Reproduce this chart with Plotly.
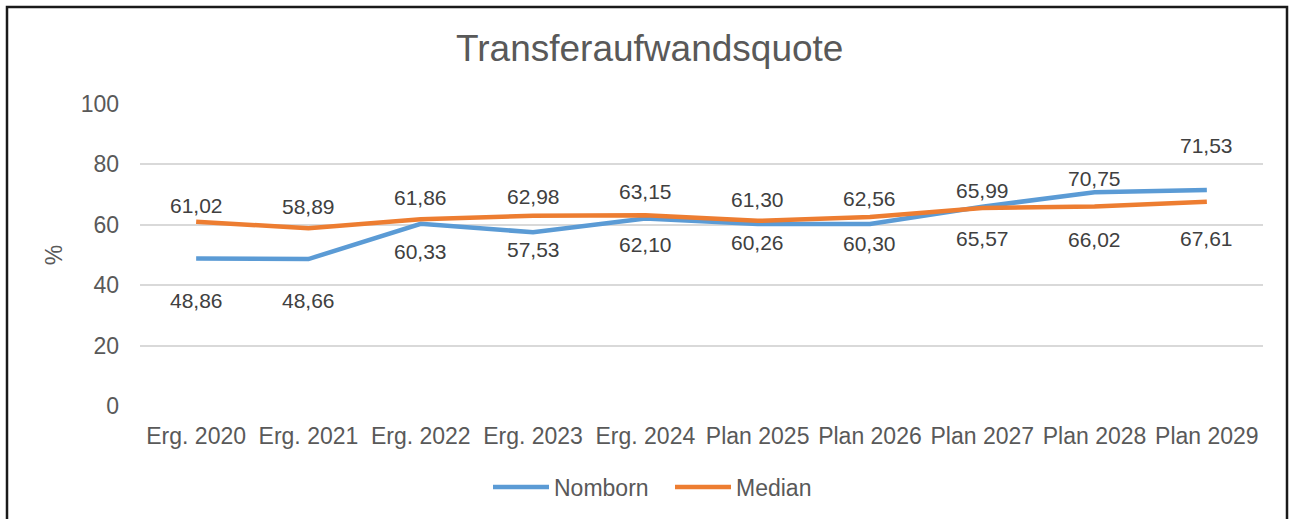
import plotly.graph_objects as go

categories = ["Erg. 2020", "Erg. 2021", "Erg. 2022", "Erg. 2023", "Erg. 2024",
              "Plan 2025", "Plan 2026", "Plan 2027", "Plan 2028", "Plan 2029"]
nomborn = [48.86, 48.66, 60.33, 57.53, 62.10, 60.26, 60.30, 65.99, 70.75, 71.53]
median = [61.02, 58.89, 61.86, 62.98, 63.15, 61.30, 62.56, 65.57, 66.02, 67.61]
y_ticks = [0, 20, 40, 60, 80, 100]

# label offsets (pixels, positive = up)
nomborn_shift = [-42, -41, -28, -17, -26, -18, -20, 16, 14, 44]
median_shift = [16, 22, 22, 19, 24, 21, 19, -31, -33, -37]

BLUE = "#5B9BD5"
ORANGE = "#ED7D31"
FONT = "Liberation Sans, Arial, sans-serif"

fig = go.Figure()
fig.add_trace(go.Scatter(x=categories, y=nomborn, mode="lines", name="Nomborn",
                         line=dict(color=BLUE, width=4.5)))
fig.add_trace(go.Scatter(x=categories, y=median, mode="lines", name="Median",
                         line=dict(color=ORANGE, width=4.5)))

def fmt(v):
    return f"{v:.2f}".replace(".", ",")

for vals, shifts in ((nomborn, nomborn_shift), (median, median_shift)):
    for c, v, s in zip(categories, vals, shifts):
        fig.add_annotation(x=c, y=v, text=fmt(v), showarrow=False, yshift=s,
                           font=dict(family=FONT, size=21, color="#404040"))

L, R, T, B = 140, 30, 104, 113
W, H = 1293, 519
pw, ph = W - L - R, H - T - B

def px(x):
    return (x - L) / pw

def py(y):
    return (H - B - y) / ph

fig.add_shape(type="rect", xref="paper", yref="paper",
              x0=px(7), x1=px(1287), y0=py(530), y1=py(7),
              line=dict(color="#1a1a1a", width=2.5), fillcolor="rgba(0,0,0,0)")

fig.update_layout(
    width=W, height=H,
    margin=dict(l=L, r=R, t=T, b=B, autoexpand=False),
    paper_bgcolor="white", plot_bgcolor="white",
    title=dict(text="Transferaufwandsquote", x=0.5025, xanchor="center",
               y=1 - 48 / H, yanchor="middle", yref="container",
               font=dict(family=FONT, size=37, color="#595959")),
    showlegend=True,
    legend=dict(orientation="h", x=px(488), xanchor="left", y=py(487), yanchor="middle",
                font=dict(family=FONT, size=23, color="#595959"),
                itemwidth=56, entrywidth=111, bgcolor="rgba(0,0,0,0)"),
    xaxis=dict(range=[-0.5, len(categories) - 0.5], showgrid=False, showline=False,
               zeroline=False, ticks="",
               tickfont=dict(family=FONT, size=23, color="#595959"),
               ticklabelstandoff=14, automargin=False),
    yaxis=dict(range=[0, 100], tickvals=y_ticks, showgrid=True, gridcolor="#d9d9d9",
               gridwidth=1.5, zeroline=False, showline=False, ticks="",
               tickfont=dict(family=FONT, size=23, color="#595959"),
               ticklabelstandoff=20, automargin=False,
               title=dict(text="%", standoff=11,
                          font=dict(family=FONT, size=23, color="#595959"))),
)

fig.write_html("out.html", config={"displayModeBar": False},
               post_script="document.body.style.margin='0';document.body.style.overflow='hidden';")
